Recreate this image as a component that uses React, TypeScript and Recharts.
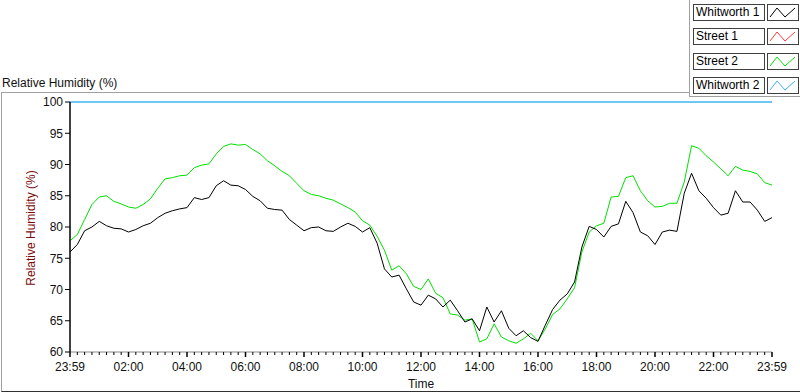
import { Line, LineChart, XAxis, YAxis } from "recharts"

// readings every 15 minutes, starting at 23:59 the day before
const whitworth1 = [
  76.0, 77.2, 79.4, 80.0, 80.9, 80.2, 79.8, 79.7, 79.2, 79.6, 80.2, 80.6, 81.5, 82.2, 82.6, 82.9,
  83.1, 84.7, 84.4, 84.7, 86.6, 87.4, 86.7, 86.6, 86.0, 84.9, 84.2, 83.0, 82.8, 82.7, 81.2, 80.3,
  79.4, 79.9, 80.0, 79.4, 79.3, 80.0, 80.6, 80.1, 79.2, 79.9, 77.4, 73.3, 72.0, 72.3, 70.1, 68.0,
  67.5, 69.1, 68.5, 67.2, 68.3, 66.6, 64.8, 65.3, 63.4, 67.2, 64.8, 66.6, 63.8, 62.6, 63.4, 62.3,
  61.7, 64.3, 66.8, 68.3, 69.3, 71.2, 76.8, 80.1, 79.6, 78.4, 80.1, 80.5, 84.1, 82.3, 79.2, 78.6,
  77.2, 79.2, 79.5, 79.3, 85.4, 88.6, 85.8, 84.6, 83.1, 81.9, 82.2, 85.8, 84.0, 84.0, 82.7, 80.9,
  81.5,
]

const street2 = [
  77.8, 78.8, 81.2, 83.6, 84.8, 85.0, 84.1, 83.7, 83.2, 83.0, 83.6, 84.5, 86.2, 87.7, 87.9, 88.2,
  88.3, 89.5, 89.9, 90.1, 91.7, 92.9, 93.3, 93.1, 93.2, 92.4, 91.7, 90.6, 89.8, 88.9, 88.2, 87.0,
  85.8, 85.2, 85.0, 84.6, 84.3, 83.7, 83.1, 82.4, 81.0, 80.3, 78.5, 76.3, 73.1, 73.8, 72.5, 70.5,
  70.0, 71.7, 69.4, 68.7, 66.1, 65.9, 65.1, 65.3, 61.6, 62.1, 64.5, 62.4, 61.8, 61.4, 62.1, 63.0,
  61.8, 63.7, 66.0, 66.9, 68.5, 70.3, 76.0, 79.2, 80.2, 80.6, 84.8, 84.9, 87.9, 88.2, 85.8, 84.2,
  83.2, 83.3, 83.8, 83.8, 87.2, 93.0, 92.6, 91.4, 90.4, 89.3, 88.2, 89.7, 89.1, 88.9, 88.5, 87.1,
  86.7,
]

// Whitworth 2 sits at the top of the scale all day
const whitworth2 = [
  { t: 0, v: 100 },
  { t: 1440, v: 100 },
]

const timeLabels = ["23:59", "02:00", "04:00", "06:00", "08:00", "10:00", "12:00", "14:00", "16:00", "18:00", "20:00", "22:00", "23:59"]
const yTicks = [60, 65, 70, 75, 80, 85, 90, 95, 100]

const legendItems = [
  { name: "Whitworth 1", color: "#000000" },
  { name: "Street 1", color: "#ff3b3b" },
  { name: "Street 2", color: "#00e000" },
  { name: "Whitworth 2", color: "#3cb6f0" },
]

const STEP = 15
const rows = whitworth1.map((w, i) => ({ t: i * STEP, w1: w, s2: street2[i] }))
const xTicks = Array.from({ length: 1440 / STEP + 1 }, (_, i) => i * STEP)

const FONT = "'Liberation Sans', Arial, sans-serif"

function TimeTick({ x, y, payload }: any) {
  const v = payload.value
  const major = v % 120 === 0
  return (
    <g>
      <line x1={x} x2={x} y1={y} y2={y + (major ? 5 : 3)} stroke="#000" strokeWidth={major ? 1.5 : 1} />
      {major && (
        <text x={x} y={y + 19} textAnchor="middle" fontSize={12} fontFamily={FONT} fill="#111">
          {timeLabels[v / 120]}
        </text>
      )}
    </g>
  )
}

function Legend() {
  return (
    <div style={{ position: "absolute", left: 689, top: 0, width: 111, height: 96, borderLeft: "1px solid #a0a0a0", borderBottom: "1px solid #a0a0a0", background: "#fff" }}>
      {legendItems.map((item, i) => (
        <div key={item.name} style={{ position: "absolute", top: 4 + i * 24.3, left: 3 }}>
          <div style={{ position: "absolute", left: 0, top: 0, width: 68, height: 15, border: "1px solid #404040", fontFamily: FONT, fontSize: 12, lineHeight: "15px", paddingLeft: 2, boxSizing: "content-box", whiteSpace: "nowrap" }}>
            {item.name}
          </div>
          <svg style={{ position: "absolute", left: 74, top: 0 }} width={32} height={17}>
            <rect x={0.5} y={0.5} width={31} height={16} fill="#fff" stroke="#404040" />
            <polyline points="3,13 10,4 18,13 28,4" fill="none" stroke={item.color} strokeWidth={1} />
          </svg>
        </div>
      ))}
    </div>
  )
}

export default function App() {
  return (
    <div style={{ position: "absolute", left: 0, top: 0, width: 800, height: 392, background: "#fff", fontFamily: FONT }}>
      <div style={{ position: "absolute", left: 1, top: 92, width: 800, height: 298, borderTop: "1px solid #a0a0a0", borderLeft: "1px solid #a0a0a0", borderBottom: "1px solid #303030" }} />
      <div style={{ position: "absolute", left: 2, top: 76, fontSize: 12, color: "#111", whiteSpace: "nowrap" }}>Relative Humidity (%)</div>
      <Legend />
      <LineChart
        width={800}
        height={392}
        data={rows}
        margin={{ top: 102, right: 28, bottom: 0, left: 10 }}
        style={{ position: "absolute", left: 0, top: 0 }}
      >
        <XAxis
          dataKey="t"
          type="number"
          domain={[0, 1440]}
          ticks={xTicks}
          interval={0}
          height={40}
          tickSize={0}
          tickMargin={0}
          tickLine={false}
          tick={<TimeTick />}
          axisLine={{ stroke: "#888" }}
          label={{
            content: () => (
              <text x={421} y={388} textAnchor="middle" fontSize={12} fontFamily={FONT} fill="#111">
                Time
              </text>
            ),
          }}
        />
        <XAxis xAxisId="top" dataKey="t" type="number" domain={[0, 1440]} orientation="top" height={0} tick={false} tickLine={false} axisLine={{ stroke: "#333" }} />
        <YAxis
          domain={[60, 100]}
          ticks={yTicks}
          interval={0}
          width={60}
          tickSize={5}
          tickMargin={2}
          tickLine={{ stroke: "#000" }}
          axisLine={{ stroke: "#000", strokeWidth: 1.5 }}
          tick={{ fontSize: 12, fontFamily: FONT, fill: "#111" }}
          label={{
            content: () => (
              <text x={35} y={228} transform="rotate(-90 35 228)" textAnchor="middle" fontSize={12} fontFamily={FONT} fill="#7a0a0a">
                Relative Humidity (%)
              </text>
            ),
          }}
        />
        <YAxis yAxisId="r" orientation="right" domain={[60, 100]} width={0} tick={false} tickLine={false} axisLine={{ stroke: "#888" }} />
        <Line type="linear" dataKey="s2" stroke="#00e000" strokeWidth={1} dot={false} isAnimationActive={false} />
        <Line type="linear" dataKey="w1" stroke="#000" strokeWidth={1} dot={false} isAnimationActive={false} />
        <Line type="linear" data={whitworth2} dataKey="v" stroke="#3cb6f0" strokeWidth={1.5} dot={false} isAnimationActive={false} />
      </LineChart>
    </div>
  )
}
